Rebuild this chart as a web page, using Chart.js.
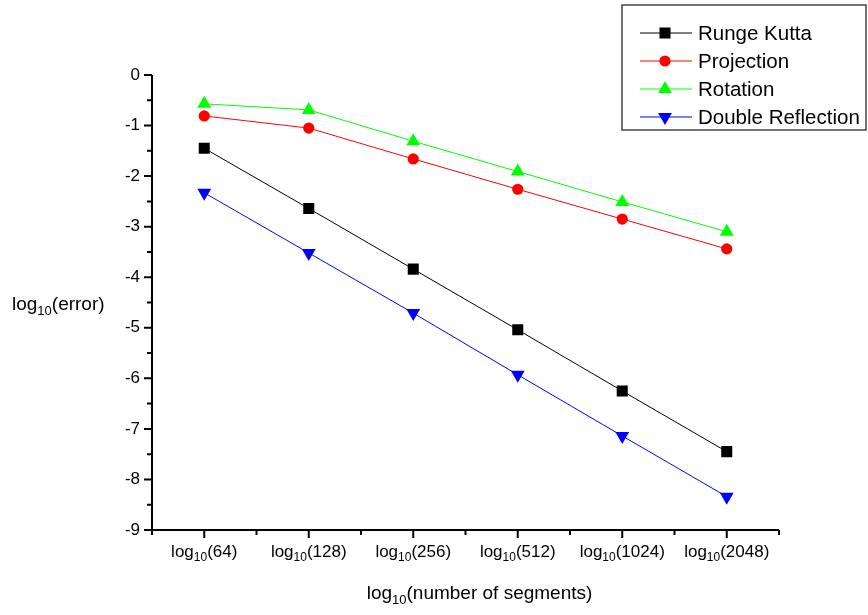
<!DOCTYPE html>
<html>
<head>
<meta charset="utf-8">
<script src="https://cdn.jsdelivr.net/npm/chart.js@4.4.1/dist/chart.umd.min.js"></script>
<style>
  html, body { margin: 0; padding: 0; background: #fff; }
  #wrap { width: 868px; height: 615px; position: relative; }
</style>
</head>
<body>
<div id="wrap"><canvas id="errorChart"></canvas></div>
<script>
const segments = [64, 128, 256, 512, 1024, 2048];
const yTicks = [0, -1, -2, -3, -4, -5, -6, -7, -8, -9];

const rungeKutta = [-1.45, -2.64, -3.84, -5.04, -6.25, -7.45];
const projection = [-0.81, -1.05, -1.66, -2.26, -2.85, -3.44];
const rotation = [-0.57, -0.69, -1.31, -1.91, -2.51, -3.10];
const doubleReflection = [-2.33, -3.52, -4.71, -5.93, -7.14, -8.34];

const FONT = "'Liberation Sans', Arial, sans-serif";

function textWithSub(ctx, parts, x, y, size, align) {
  // parts: [["log", false], ["10", true], ["(64)", false]]
  const subSize = Math.round(size * 0.68);
  const widths = parts.map(([t, sub]) => {
    ctx.font = `${sub ? subSize : size}px ${FONT}`;
    return ctx.measureText(t).width;
  });
  const total = widths.reduce((a, b) => a + b, 0);
  let cx = align === "center" ? x - total / 2 : align === "right" ? x - total : x;
  ctx.textAlign = "left";
  ctx.textBaseline = "middle";
  parts.forEach(([t, sub], i) => {
    ctx.font = `${sub ? subSize : size}px ${FONT}`;
    ctx.fillText(t, cx, sub ? y + size * 0.35 : y);
    cx += widths[i];
  });
}

const axesPlugin = {
  id: "originAxes",
  afterDraw(chart) {
    const { ctx, chartArea: area, scales: { x, y } } = chart;
    ctx.save();
    ctx.strokeStyle = "#000";
    ctx.fillStyle = "#000";
    ctx.lineWidth = 2;

    ctx.beginPath();
    ctx.moveTo(area.left, area.top);
    ctx.lineTo(area.left, area.bottom + 1);
    ctx.moveTo(area.left - 1, area.bottom);
    ctx.lineTo(area.right, area.bottom);
    ctx.stroke();

    // y ticks, majors and halves
    ctx.beginPath();
    for (let v = 0; v >= -9; v -= 0.5) {
      const py = y.getPixelForValue(v);
      const len = Number.isInteger(v) ? 8 : 5;
      ctx.moveTo(area.left, py);
      ctx.lineTo(area.left - len, py);
    }
    // x ticks, at categories and between them
    for (let i = -0.5; i <= segments.length - 0.5; i += 0.5) {
      const px = x.getPixelForValue(i);
      const len = Number.isInteger(i) ? 8 : 5;
      ctx.moveTo(px, area.bottom);
      ctx.lineTo(px, area.bottom + len);
    }
    ctx.stroke();

    ctx.font = `17px ${FONT}`;
    ctx.textAlign = "right";
    ctx.textBaseline = "middle";
    yTicks.forEach((v) => {
      ctx.fillText(String(v), area.left - 12, y.getPixelForValue(v));
    });

    segments.forEach((n, i) => {
      textWithSub(ctx, [["log", false], ["10", true], [`(${n})`, false]],
        x.getPixelForValue(i), area.bottom + 22, 17, "center");
    });

    textWithSub(ctx, [["log", false], ["10", true], ["(error)", false]],
      12, (area.top + area.bottom) / 2 + 2, 19, "left");
    textWithSub(ctx, [["log", false], ["10", true], ["(number of segments)", false]],
      (area.left + area.right) / 2 + 14, area.bottom + 64, 19, "center");

    // legend box
    const bx = 622, by = 5, bw = 244, bh = 125;
    ctx.lineWidth = 1.5;
    ctx.strokeStyle = "#444";
    ctx.strokeRect(bx, by, bw, bh);
    chart.data.datasets.forEach((ds, i) => {
      const ry = 33 + i * 28;
      ctx.lineWidth = 1;
      ctx.strokeStyle = ds.borderColor;
      ctx.beginPath();
      ctx.moveTo(640, ry);
      ctx.lineTo(692, ry);
      ctx.stroke();
      ctx.fillStyle = ds.backgroundColor;
      ctx.strokeStyle = ds.backgroundColor;
      Chart.helpers.drawPoint(ctx, {
        pointStyle: ds.pointStyle,
        rotation: ds.pointRotation || 0,
        radius: ds.pointRadius,
        borderWidth: 0
      }, 665, ry);
      ctx.fillStyle = "#000";
      ctx.font = `20.5px ${FONT}`;
      ctx.textAlign = "left";
      ctx.textBaseline = "middle";
      ctx.fillText(ds.label, 698, ry + 1);
    });
    ctx.restore();
  }
};

function series(label, data, color, pointStyle, radius, rotation) {
  return {
    label,
    data,
    borderColor: color,
    backgroundColor: color,
    borderWidth: 1,
    pointStyle,
    pointRadius: radius,
    pointHoverRadius: radius,
    pointBorderWidth: 0,
    pointRotation: rotation || 0,
    tension: 0
  };
}

new Chart(document.getElementById("errorChart"), {
  type: "line",
  data: {
    labels: segments.map((n) => `log10(${n})`),
    datasets: [
      series("Runge Kutta", rungeKutta, "#000000", "rect", 7.8),
      series("Projection", projection, "#ff0000", "circle", 5.6),
      series("Rotation", rotation, "#00ff00", "triangle", 8),
      series("Double Reflection", doubleReflection, "#0000ff", "triangle", 8, 180)
    ]
  },
  options: {
    responsive: true,
    maintainAspectRatio: false,
    animation: false,
    layout: { padding: { left: 152, right: 89, top: 75, bottom: 85 } },
    plugins: {
      legend: { display: false },
      tooltip: { enabled: false }
    },
    scales: {
      x: { type: "category", offset: true, display: false },
      y: { min: -9, max: 0, display: false }
    }
  },
  plugins: [axesPlugin]
});
</script>
</body>
</html>
